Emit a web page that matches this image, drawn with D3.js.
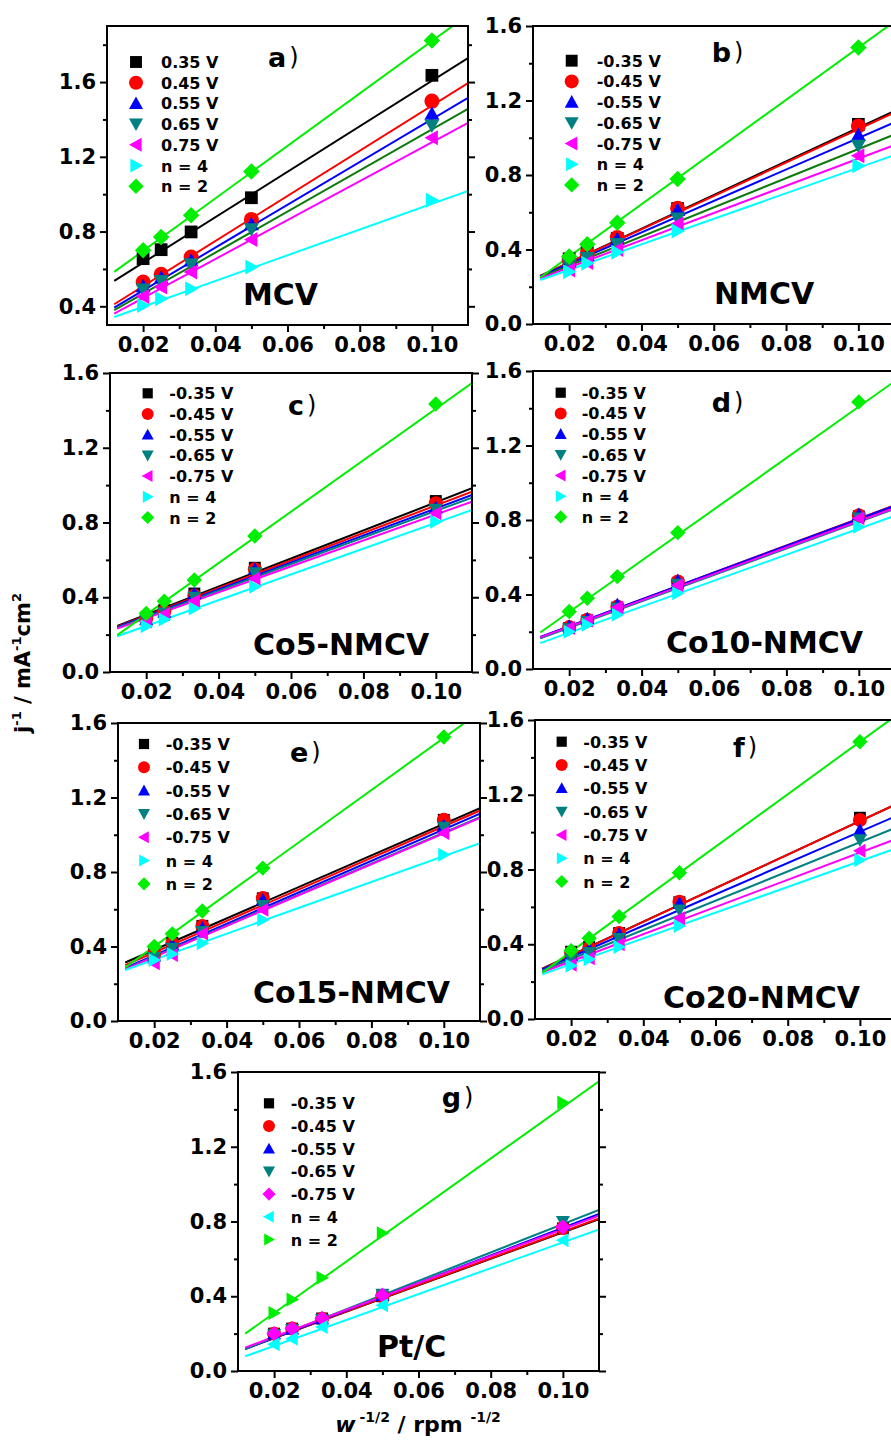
<!DOCTYPE html>
<html><head><meta charset="utf-8">
<script src="https://cdn.jsdelivr.net/npm/d3@7/dist/d3.min.js"></script>
<style>
body{margin:0;background:#fff}
text{font-family:"DejaVu Sans",sans-serif;font-weight:bold;fill:#000}
</style>
</head><body>
<svg id="chart" width="891" height="1446"></svg>
<script>
// ---------- data ----------
const xValues = [0.02, 0.025, 0.0333, 0.05, 0.10];      // w^-1/2 of the measured points
const fitX = [0.012, 0.11];                               // ends of the fitted lines
const xTickValues = [0.02, 0.04, 0.06, 0.08, 0.10];
const xMinorValues = [0.03, 0.05, 0.07, 0.09];
const legendMCV = ["0.35 V", "0.45 V", "0.55 V", "0.65 V", "0.75 V", "n = 4", "n = 2"];
const legendNeg = ["-0.35 V", "-0.45 V", "-0.55 V", "-0.65 V", "-0.75 V", "n = 4", "n = 2"];
const panelNames = ["MCV", "NMCV", "Co5-NMCV", "Co10-NMCV", "Co15-NMCV", "Co20-NMCV", "Pt/C"];
const panelTags = ["a", "b", "c", "d", "e", "f", "g"];

const ptsMCV = [
  [0.655, 0.703, 0.798, 0.981, 1.636],
  [0.530, 0.571, 0.664, 0.865, 1.498],
  [0.507, 0.553, 0.645, 0.839, 1.430],
  [0.490, 0.535, 0.625, 0.812, 1.368],
  [0.453, 0.503, 0.584, 0.757, 1.302],
  [0.405, 0.441, 0.494, 0.610, 0.967],
  [0.700, 0.771, 0.887, 1.122, 1.823]];
const fitMCV = [[0.536, 1.728], [0.411, 1.595], [0.393, 1.516], [0.379, 1.457], [0.361, 1.382], [0.343, 1.017], [0.584, 1.960]];

const ptsNMCV = [
  [0.350, 0.385, 0.460, 0.620, 1.072],
  [0.345, 0.379, 0.464, 0.621, 1.063],
  [0.335, 0.370, 0.455, 0.612, 1.015],
  [0.320, 0.355, 0.430, 0.567, 0.957],
  [0.290, 0.330, 0.400, 0.537, 0.904],
  [0.280, 0.326, 0.385, 0.500, 0.850],
  [0.362, 0.428, 0.544, 0.779, 1.484]];
const fitNMCV = [[0.258, 1.144], [0.258, 1.135], [0.255, 1.083], [0.250, 1.018], [0.245, 0.961], [0.236, 0.907], [0.250, 1.624]];

const ptsCo5 = [
  [0.290, 0.330, 0.420, 0.558, 0.915],
  [0.285, 0.325, 0.410, 0.550, 0.903],
  [0.280, 0.320, 0.420, 0.550, 0.880],
  [0.275, 0.315, 0.400, 0.530, 0.870],
  [0.270, 0.310, 0.380, 0.500, 0.850],
  [0.245, 0.281, 0.340, 0.456, 0.804],
  [0.313, 0.379, 0.492, 0.728, 1.434]];
const fitCo5 = [[0.247, 0.983], [0.243, 0.965], [0.240, 0.947], [0.236, 0.933], [0.232, 0.912], [0.191, 0.867], [0.197, 1.546]];

const ptsCo10 = [
  [0.220, 0.260, 0.330, 0.460, 0.820],
  [0.225, 0.265, 0.335, 0.470, 0.825],
  [0.230, 0.270, 0.345, 0.475, 0.830],
  [0.215, 0.255, 0.325, 0.455, 0.810],
  [0.220, 0.260, 0.330, 0.450, 0.810],
  [0.200, 0.237, 0.291, 0.407, 0.764],
  [0.309, 0.380, 0.496, 0.732, 1.434]];
const fitCo10 = [[0.168, 0.875], [0.170, 0.880], [0.172, 0.878], [0.165, 0.860], [0.170, 0.865], [0.139, 0.823], [0.196, 1.546]];

const ptsCo15 = [
  [0.360, 0.420, 0.511, 0.659, 1.080],
  [0.360, 0.417, 0.510, 0.660, 1.080],
  [0.350, 0.410, 0.500, 0.650, 1.050],
  [0.340, 0.390, 0.480, 0.620, 1.040],
  [0.310, 0.355, 0.470, 0.597, 1.009],
  [0.328, 0.360, 0.417, 0.543, 0.892],
  [0.400, 0.468, 0.591, 0.821, 1.525]];
const fitCo15 = [[0.314, 1.143], [0.300, 1.130], [0.285, 1.113], [0.280, 1.095], [0.278, 1.090], [0.274, 0.955], [0.288, 1.660]];

const ptsCo20 = [
  [0.360, 0.385, 0.460, 0.625, 1.077],
  [0.355, 0.380, 0.460, 0.628, 1.065],
  [0.340, 0.375, 0.455, 0.619, 1.011],
  [0.320, 0.355, 0.430, 0.583, 0.958],
  [0.290, 0.325, 0.400, 0.539, 0.900],
  [0.285, 0.320, 0.385, 0.498, 0.851],
  [0.366, 0.432, 0.548, 0.783, 1.484]];
const fitCo20 = [[0.270, 1.149], [0.268, 1.149], [0.265, 1.086], [0.258, 1.024], [0.250, 0.963], [0.239, 0.913], [0.248, 1.624]];

const ptsPtC = [
  [0.200, 0.227, 0.281, 0.400, 0.763],
  [0.200, 0.227, 0.280, 0.400, 0.765],
  [0.200, 0.225, 0.280, 0.405, 0.780],
  [0.195, 0.222, 0.275, 0.410, 0.800],
  [0.200, 0.227, 0.281, 0.406, 0.770],
  [0.143, 0.173, 0.236, 0.352, 0.700],
  [0.311, 0.383, 0.499, 0.737, 1.437]];
const fitPtC = [[0.120, 0.812], [0.120, 0.817], [0.118, 0.840], [0.118, 0.862], [0.125, 0.831], [0.079, 0.758], [0.200, 1.550]];

// ---------- styles ----------
const markerColors = ["#000000", "#ff0000", "#0000ff", "#008080", "#ff00ff", "#00ffff", "#00ee00"];
const lineColorsAB = ["#000000", "#ff0000", "#0000ff", "#0a7a0a", "#ff00ff", "#00ffff", "#00ee00"];
const shapesStd = ["square", "circle", "up", "down", "left", "right", "diamond"];
const shapesPt = ["square", "circle", "up", "down", "diamond", "left", "right"];

const panels = [
  {pts: ptsMCV, fit: fitMCV, legend: legendMCV, box: [107, 26, 468, 325], yDom: [0.3, 1.9], yMaj: [0.4, 0.8, 1.2, 1.6], yMin: [0.6, 1.0, 1.4, 1.8],
   leg: [136, 62, 161, 20.7], mr: 7.5, lmr: 7, tag: [268, 67], name: [243, 305], lineColors: lineColorsAB, shapes: shapesStd},
  {pts: ptsNMCV, fit: fitNMCV, legend: legendNeg, box: [533, 26, 894.5, 324], yDom: [0, 1.6], yMaj: [0, 0.4, 0.8, 1.2, 1.6], yMin: [0.2, 0.6, 1.0, 1.4],
   leg: [571.7, 60.7, 596.7, 20.7], mr: 7.5, lmr: 7, tag: [711.7, 62], name: [714, 304], lineColors: lineColorsAB, shapes: shapesStd},
  {pts: ptsCo5, fit: fitCo5, legend: legendNeg, box: [110, 373, 472, 672], yDom: [0, 1.6], yMaj: [0, 0.4, 0.8, 1.2, 1.6], yMin: [0.2, 0.6, 1.0, 1.4],
   leg: [147.7, 393.3, 169.3, 20.7], mr: 7, lmr: 6, tag: [288, 415], name: [253, 655], lineColors: markerColors, shapes: shapesStd},
  {pts: ptsCo10, fit: fitCo10, legend: legendNeg, box: [533, 371, 895, 669], yDom: [0, 1.6], yMaj: [0, 0.4, 0.8, 1.2, 1.6], yMin: [0.2, 0.6, 1.0, 1.4],
   leg: [560.7, 392.7, 581.7, 20.7], mr: 7, lmr: 6, tag: [711.7, 411.7], name: [666, 653], lineColors: markerColors, shapes: shapesStd},
  {pts: ptsCo15, fit: fitCo15, legend: legendNeg, box: [118, 723, 480, 1021], yDom: [0, 1.6], yMaj: [0, 0.4, 0.8, 1.2, 1.6], yMin: [0.2, 0.6, 1.0, 1.4],
   leg: [144, 744, 165.7, 23.3], mr: 7, lmr: 6, tag: [290, 761.7], name: [253, 1003], lineColors: markerColors, shapes: shapesStd},
  {pts: ptsCo20, fit: fitCo20, legend: legendNeg, box: [535, 720, 896, 1019], yDom: [0, 1.6], yMaj: [0, 0.4, 0.8, 1.2, 1.6], yMin: [0.2, 0.6, 1.0, 1.4],
   leg: [561.7, 741.7, 583.3, 23.3], mr: 7, lmr: 6, tag: [733, 757], name: [663, 1008], lineColors: markerColors, shapes: shapesStd},
  {pts: ptsPtC, fit: fitPtC, legend: legendNeg, box: [238, 1072, 599, 1371], yDom: [0, 1.6], yMaj: [0, 0.4, 0.8, 1.2, 1.6], yMin: [0.2, 0.6, 1.0, 1.4],
   leg: [269, 1103.3, 290.7, 22.7], mr: 7, lmr: 6, tag: [441.7, 1107], name: [377, 1357], lineColors: markerColors, shapes: shapesPt}
];

function shapePath(t, r) {
  const k = 0.8;
  switch (t) {
    case "square": { const s = r * 0.85; return `M${-s},${-s}H${s}V${s}H${-s}Z`; }
    case "circle": return `M${r},0A${r},${r} 0 1,1 ${-r},0A${r},${r} 0 1,1 ${r},0Z`;
    case "up": return `M0,${-r}L${r},${r * k}L${-r},${r * k}Z`;
    case "down": return `M0,${r}L${r},${-r * k}L${-r},${-r * k}Z`;
    case "left": return `M${-r},0L${r * k},${-r}L${r * k},${r}Z`;
    case "right": return `M${r},0L${-r * k},${-r}L${-r * k},${r}Z`;
    case "diamond": { const d = r * 1.1; return `M0,${-d}L${d},0L0,${d}L${-d},0Z`; }
  }
}

const svg = d3.select("#chart");
svg.append("rect").attr("width", 891).attr("height", 1446).attr("fill", "#fff");

panels.forEach((p, pi) => {
  const [L, T, R, B] = p.box;
  const x = d3.scaleLinear().domain([0.01, 0.11]).range([L, R]);
  const y = d3.scaleLinear().domain(p.yDom).range([B, T]);
  const g = svg.append("g");

  const clipId = "clip" + pi;
  g.append("clipPath").attr("id", clipId).append("rect")
    .attr("x", L).attr("y", T).attr("width", R - L).attr("height", B - T);

  const styleAxis = sel => {
    sel.select(".domain").remove();
    sel.selectAll(".tick line").attr("stroke", "#000").attr("stroke-width", 2);
    sel.selectAll(".tick text").style("font-family", '"DejaVu Sans",sans-serif')
      .style("font-weight", "bold").style("font-size", "21px").attr("fill", "#000");
  };

  // axes
  g.append("g").attr("transform", `translate(${L},0)`)
    .call(d3.axisLeft(y).tickValues(p.yMaj).tickSize(7).tickPadding(4).tickFormat(d3.format(".1f"))).call(styleAxis);
  g.append("g").attr("transform", `translate(${L},0)`)
    .call(d3.axisLeft(y).tickValues(p.yMin).tickSize(4).tickFormat("")).call(styleAxis);
  g.append("g").attr("transform", `translate(${R},0)`)
    .call(d3.axisRight(y).tickValues(p.yMaj).tickSize(7).tickFormat("")).call(styleAxis);
  g.append("g").attr("transform", `translate(${R},0)`)
    .call(d3.axisRight(y).tickValues(p.yMin).tickSize(4).tickFormat("")).call(styleAxis);
  g.append("g").attr("transform", `translate(0,${B})`)
    .call(d3.axisBottom(x).tickValues(xTickValues).tickSize(7).tickPadding(5).tickFormat(d3.format(".2f"))).call(styleAxis);
  g.append("g").attr("transform", `translate(0,${B})`)
    .call(d3.axisBottom(x).tickValues(xMinorValues).tickSize(4).tickFormat("")).call(styleAxis);

  // fitted lines
  const line = d3.line().x(d => x(d[0])).y(d => y(d[1]));
  const lg = g.append("g").attr("clip-path", `url(#${clipId})`);
  p.fit.forEach((f, i) => {
    lg.append("path").datum([[fitX[0], f[0]], [fitX[1], f[1]]])
      .attr("d", line).attr("fill", "none").attr("stroke", p.lineColors[i]).attr("stroke-width", 2);
  });

  // points
  const mg = g.append("g");
  p.pts.forEach((s, i) => {
    mg.selectAll(null).data(s).enter().append("path")
      .attr("transform", (d, j) => `translate(${x(xValues[j])},${y(d)})`)
      .attr("d", shapePath(p.shapes[i], p.mr))
      .attr("fill", markerColors[i]);
  });

  // frame
  g.append("rect").attr("x", L).attr("y", T).attr("width", R - L).attr("height", B - T)
    .attr("fill", "none").attr("stroke", "#000").attr("stroke-width", 2);

  // legend
  const [mx, my, tx, sp] = p.leg;
  p.legend.forEach((lab, i) => {
    g.append("path").attr("transform", `translate(${mx},${my + i * sp})`)
      .attr("d", shapePath(p.shapes[i], p.lmr)).attr("fill", markerColors[i]);
    g.append("text").attr("x", tx).attr("y", my + i * sp + 6).style("font-size", "16px").text(lab);
  });

  // tag
  const t = g.append("text").attr("x", p.tag[0]).attr("y", p.tag[1]).style("font-size", "27px");
  t.append("tspan").text(panelTags[pi]);
  t.append("tspan").attr("dx", 3).style("font-weight", "normal").style("font-size", "24px").attr("dy", -2).text(")");

  // name
  g.append("text").attr("x", p.name[0]).attr("y", p.name[1]).style("font-size", "30px").text(panelNames[pi]);
});

// y title
const yt = svg.append("text").attr("transform", "translate(30,663) rotate(-90)")
  .attr("text-anchor", "middle").style("font-size", "21px");
yt.append("tspan").text("j");
yt.append("tspan").attr("dy", -9).style("font-size", "13px").text("-1");
yt.append("tspan").attr("dy", 9).text(" / mA");
yt.append("tspan").attr("dy", -9).style("font-size", "13px").text("-1");
yt.append("tspan").attr("dy", 9).text("cm");
yt.append("tspan").attr("dy", -9).style("font-size", "13px").text("2");

// x title
const xt = svg.append("text").attr("x", 418).attr("y", 1432).attr("text-anchor", "middle").style("font-size", "22px");
xt.append("tspan").style("font-style", "italic").text("w");
xt.append("tspan").attr("dy", -10).attr("dx", 4).style("font-size", "14px").text("-1/2");
xt.append("tspan").attr("dy", 10).text(" / rpm ");
xt.append("tspan").attr("dy", -10).style("font-size", "14px").text("-1/2");
</script>
</body></html>
